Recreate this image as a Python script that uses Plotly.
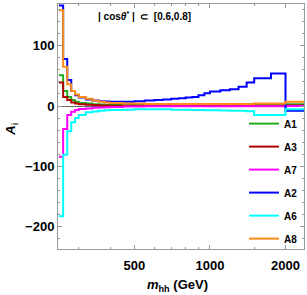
import plotly.graph_objects as go

# bin edges in GeV (m_hh)
bin_edges = [250, 260, 270, 280, 290, 300, 320, 340, 360, 380, 400, 450, 500, 550, 600,
             650, 700, 750, 800, 850, 900, 950, 1000, 1100, 1200, 1300, 1400, 1500, 1750,
             2000, 2500]

A1 = [51, 25, 15, 10, 7, 5, 4, 3, 2.5, 2, 1.5, 1.5, 1.5, 1.5, 1.5, 1.5, 1.5, 1.5, 1.5,
      1.5, 1.5, 1.5, 1.5, 1.5, 1.5, 1.5, 1.5, 2, 2, 3]
A3 = [39, 15, 10, 6, 4, 3, 2, 1.5, 1, 1, 0.5, 0.5, 0.5, 0.5, 0.5, 0.5, 0.5, 0.5, 0.5,
      0.5, 0.5, 0.5, 0.5, 0.5, 0.5, 0.5, 0.5, 0.5, 0.5, 1]
A7 = [-84, -38, -15, -9.5, -6.6, -5, -4, -3, -2.5, -2, -1.5, -1, -1, -0.5, -0.5, -0.5,
      -0.5, -0.5, -0.5, -0.5, -0.5, -0.5, -0.5, -0.5, -0.5, -0.5, -0.5, -0.5, -0.5, 0]
A2 = [167, 78, 43, 25, 18, 14, 11, 9, 8, 7.5, 7, 7, 8, 9, 10, 11, 12, 13, 14, 15, 18,
      21, 24, 26, 28, 32, 39, 46, 54, -8]
A6 = [-183, -81, -42, -27, -20, -15, -10.5, -9, -8, -7, -6.5, -6, -5.5, -5.5, -5.5,
      -5.5, -6, -6, -6, -6.5, -6.5, -7, -7, -7.5, -8, -8, -8.5, -15, -15, -5.5]
A8 = [159, 65, 36, 25, 19, 15, 12, 9, 7, 6, 5, 4, 4, 3.5, 3.5, 3.5, 3.5, 3.5, 3.5, 3.5,
      3.5, 3.5, 3.5, 3.5, 3.5, 3.5, 3.5, 4, 4, 7]

series = [
    ("A1", A1, "#1fae1f"),
    ("A3", A3, "#b00000"),
    ("A7", A7, "#ff00ff"),
    ("A2", A2, "#0000ff"),
    ("A6", A6, "#00ffff"),
    ("A8", A8, "#ff8c1a"),
]

x_major = [500, 1000, 2000]
x_minor = [300, 400, 600, 700, 800, 900, 1500]
y_major = [-200, -100, 0, 100]

fig = go.Figure()
for name, vals, col in series:
    fig.add_trace(go.Scatter(
        x=bin_edges, y=vals + [vals[-1]], mode="lines", name=name,
        line=dict(color=col, width=2, shape="hv"), legendgroup=name,
    ))

tickfont = dict(family="Liberation Sans", size=13, color="black", weight="bold")
fig.update_layout(
    width=307, height=295,
    margin=dict(l=58, r=3, t=4, b=46, autoexpand=False),
    paper_bgcolor="white", plot_bgcolor="white",
    showlegend=True,
    legend=dict(x=0.756, y=0.571, xanchor="left", yanchor="top",
                bgcolor="rgba(0,0,0,0)", tracegroupgap=4,
                font=dict(family="Liberation Sans", size=10, color="black", weight="bold")),
    xaxis=dict(type="log", range=[2.3945, 3.3747], tickvals=x_major,
               ticktext=[str(v) for v in x_major],
               ticks="inside", ticklen=4, tickcolor="#999", showline=True,
               linecolor="#999", linewidth=1, mirror="allticks", showgrid=False,
               zeroline=False, tickfont=tickfont, ticklabelstandoff=4,
               minor=dict(tickvals=x_minor, ticks="inside", ticklen=2, tickcolor="#999",
                          showgrid=False)),
    yaxis=dict(range=[-237.3, 169.3], tickvals=y_major,
               ticks="inside", ticklen=4, tickcolor="#999", showline=True,
               linecolor="#999", linewidth=1, mirror="allticks", showgrid=False,
               zeroline=True, zerolinecolor="#666", zerolinewidth=1, tickfont=tickfont,
               minor=dict(dtick=20, ticks="inside", ticklen=2, tickcolor="#999",
                          showgrid=False)),
    annotations=[
        dict(text="| cos<i>θ</i><sup>*</sup> |  ⊂  [0.6,0.8]", xref="paper", yref="paper",
             x=0.155, y=0.951, xanchor="left", yanchor="middle", showarrow=False,
             font=dict(family="Liberation Sans", size=10, color="black", weight="bold")),
        dict(text="<i>m</i><sub>hh</sub> (GeV)", xref="paper", yref="paper",
             x=0.485, y=-0.15, xanchor="center", yanchor="middle", showarrow=False,
             font=dict(family="Liberation Sans", size=13, color="black", weight="bold")),
        dict(text="<i>A</i><sub>i</sub>", xref="paper", yref="paper",
             x=-0.188, y=0.49, xanchor="center", yanchor="middle", showarrow=False,
             textangle=-90,
             font=dict(family="Liberation Sans", size=13, color="black", weight="bold")),
    ],
)

fig.write_html("out.html", config={"displayModeBar": False},
               post_script="document.body.style.margin='0';")
